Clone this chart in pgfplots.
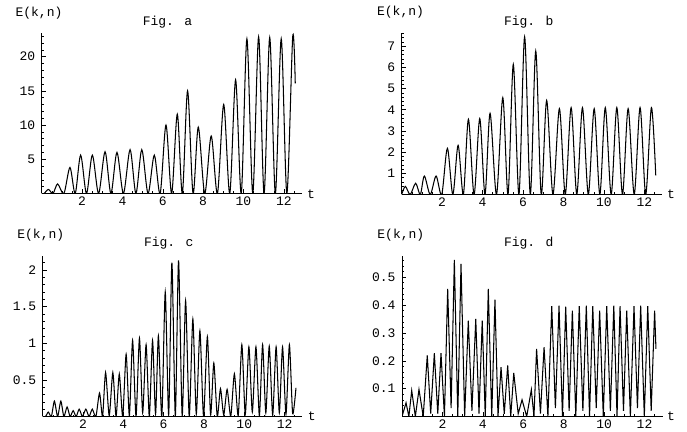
\documentclass[border=0pt]{standalone}
\usepackage{fontspec}
\setmainfont{Liberation Mono}
\usepackage{pgfplots}
\pgfplotsset{compat=1.18}
\pgfplotsset{
 mma/.style={
  scale only axis,
  axis lines=left,
  axis line style={-, line width=0.6bp},
  anchor=south west,
  xmin=0, ymin=0,
  tick align=inside,
  major tick length=4bp, minor tick length=2bp,
  every tick/.style={black, line width=0.5bp},
  xtick={2,4,6,8,10,12},
  minor xtick={0.5,1,...,12.5},
  /pgf/number format/assume math mode=true,
  yticklabel style={xshift=-3bp},
  clip=true,
 },
 curve/.style={black, line width=1.05bp, no marks},
}
\begin{document}
\begin{tikzpicture}[font=\fontsize{13bp}{15bp}\selectfont]
\useasboundingbox (0,0) rectangle (687bp,432bp);
% ---------------- Fig. a
\begin{axis}[mma, at={(41.7bp,238.5bp)}, width=260.3bp, height=160.5bp,
  xmax=12.9, ymax=23.45, ytick={5,10,15,20}, minor ytick={1,2,...,23}]
\addplot[curve, smooth] coordinates {
(0,0)(0.12,0)(0.33,0.6)(0.56,0)(0.79,1.4)(1.1,0)(1.40,3.8)(1.66,0)(1.93,5.6)(2.22,0)
(2.51,5.6)(2.82,0)(3.14,6.1)(3.43,0)(3.73,6.0)(4.05,0)(4.38,6.4)(4.67,0)(4.96,6.4)(5.27,0)
(5.58,5.6)(5.87,0)(6.16,10.0)(6.44,0)(6.72,11.6)(6.97,0)(7.23,15.0)(7.5,0)(7.76,9.7)(8.08,0)
(8.40,8.4)(8.71,0)(9.02,13.0)(9.32,0)(9.61,16.6)(9.89,0)(10.17,22.6)(10.46,0)(10.75,22.9)(11.02,0)
(11.30,22.8)(11.58,0)(11.87,22.6)(12.15,0)(12.44,22.9)(12.566,16.1)};
\end{axis}
% ---------------- Fig. b
\begin{axis}[mma, at={(401.7bp,237.5bp)}, width=260bp, height=161.7bp,
  xmax=12.86, ymax=7.63, ytick={1,2,3,4,5,6,7}, minor ytick={0.2,0.4,...,7.6}]
\addplot[curve, smooth] coordinates {
(0,0)(0.18,0.38)(0.42,0)(0.69,0.53)(0.92,0)(1.12,0.87)(1.41,0)(1.70,0.87)(1.98,0)(2.26,2.18)
(2.53,0)(2.79,2.32)(3.05,0)(3.30,3.55)(3.58,0)(3.86,3.58)(4.12,0)(4.37,3.83)(4.69,0)(5.0,4.57)
(5.26,0)(5.52,6.14)(5.80,0)(6.08,7.44)(6.36,0)(6.63,6.77)(6.90,0)(7.17,4.44)(7.48,0)(7.80,4.05)
(8.09,0)(8.38,4.1)(8.66,0)(8.94,4.1)(9.23,0)(9.52,4.05)(9.80,0)(10.07,4.1)(10.36,0)(10.64,4.1)
(10.92,0)(11.20,4.05)(11.5,0)(11.79,4.1)(12.07,0)(12.35,4.1)(12.566,0.9)};
\end{axis}
% ---------------- Fig. c
\begin{axis}[mma, at={(42.7bp,15.5bp)}, width=259bp, height=160.5bp,
  xmax=12.85, ymax=2.19, ytick={0.5,1,1.5,2}, minor ytick={0.1,0.2,...,2.15}]
\addplot[curve, smooth, tension=0.4] coordinates {
(0,0)(0.14,0)(0.28,0.06)(0.43,0)(0.58,0.21)(0.74,0)(0.90,0.21)(1.05,0)(1.21,0.13)(1.36,0)
(1.51,0.08)(1.66,0)(1.81,0.10)(1.97,0)(2.14,0.10)(2.30,0)(2.46,0.10)(2.64,0)(2.82,0.32)(2.97,0)
(3.12,0.60)(3.30,0.01)(3.48,0.60)(3.64,0)(3.80,0.58)(3.97,0)(4.14,0.85)(4.30,0.01)(4.46,1.04)(4.63,0)
(4.80,1.07)(4.96,0.05)(5.13,0.98)(5.29,0)(5.45,1.04)(5.60,0.03)(5.74,1.10)(5.91,0)(6.08,1.70)(6.25,0.02)
(6.41,2.10)(6.58,0)(6.74,2.13)(6.92,0.01)(7.09,1.58)(7.27,0)(7.45,1.33)(7.62,0.03)(7.80,1.17)(7.98,0)
(8.17,1.09)(8.33,0.02)(8.49,0.73)(8.66,0)(8.82,0.38)(8.98,0.02)(9.15,0.37)(9.33,0)(9.51,0.58)(9.70,0.01)
(9.88,0.98)(10.05,0.03)(10.23,0.95)(10.40,0.06)(10.58,0.95)(10.75,0.01)(10.91,0.98)(11.07,0.05)(11.24,0.96)(11.41,0.02)
(11.58,0.95)(11.74,0.05)(11.90,0.95)(12.07,0.03)(12.24,0.98)(12.40,0.04)(12.566,0.39)};
\end{axis}
% ---------------- Fig. d
\begin{axis}[mma, at={(402bp,15.5bp)}, width=260.7bp, height=160.5bp,
  xmax=12.9, ymax=0.576, ytick={0.1,0.2,0.3,0.4,0.5}, minor ytick={0.02,0.04,...,0.57}]
\addplot[curve] coordinates {
(0,0)(0.20,0.049)(0.34,0)(0.48,0.093)(0.66,0)(0.84,0.097)(1.05,0)(1.25,0.219)(1.42,0.01)(1.60,0.227)
(1.77,0.01)(1.93,0.227)(2.10,0)(2.26,0.458)(2.43,0.03)(2.59,0.562)(2.76,0)(2.92,0.548)(3.10,0)(3.28,0.344)
(3.46,0.02)(3.65,0.35)(3.81,0.01)(3.97,0.344)(4.12,0)(4.27,0.458)(4.44,0)(4.60,0.419)(4.75,0)(4.90,0.177)
(5.06,0.01)(5.23,0.183)(5.38,0)(5.53,0.156)(5.75,0.01)(5.94,0.06)(6.17,0)(6.40,0.096)(6.53,0)(6.66,0.243)
(6.85,0.01)(7.03,0.249)(7.22,0)(7.41,0.396)(7.59,0.03)(7.77,0.398)(7.94,0)(8.10,0.394)(8.27,0.02)(8.43,0.38)
(8.60,0)(8.77,0.396)(8.95,0.02)(9.12,0.398)(9.28,0)(9.44,0.396)(9.61,0.03)(9.78,0.38)(9.96,0)(10.13,0.396)
(10.31,0.02)(10.48,0.398)(10.64,0)(10.79,0.396)(10.96,0.02)(11.12,0.38)(11.30,0)(11.48,0.396)(11.65,0.03)(11.81,0.398)
(11.99,0)(12.16,0.396)(12.33,0.02)(12.50,0.38)(12.566,0.243)};
\end{axis}
% ---------------- labels
\node[anchor=base] at (39bp,415.3bp) {E(k,n)};
\node[anchor=base] at (167.5bp,406bp) {Fig. a};
\node[anchor=base] at (311bp,233bp) {t};
\node[anchor=base] at (400.5bp,416bp) {E(k,n)};
\node[anchor=base] at (528.7bp,406bp) {Fig. b};
\node[anchor=base] at (671bp,233bp) {t};
\node[anchor=base] at (40.8bp,193.3bp) {E(k,n)};
\node[anchor=base] at (168.8bp,185.3bp) {Fig. c};
\node[anchor=base] at (311.7bp,12bp) {t};
\node[anchor=base] at (400.8bp,193.3bp) {E(k,n)};
\node[anchor=base] at (528.7bp,185bp) {Fig. d};
\node[anchor=base] at (671bp,12bp) {t};
\end{tikzpicture}
\end{document}
